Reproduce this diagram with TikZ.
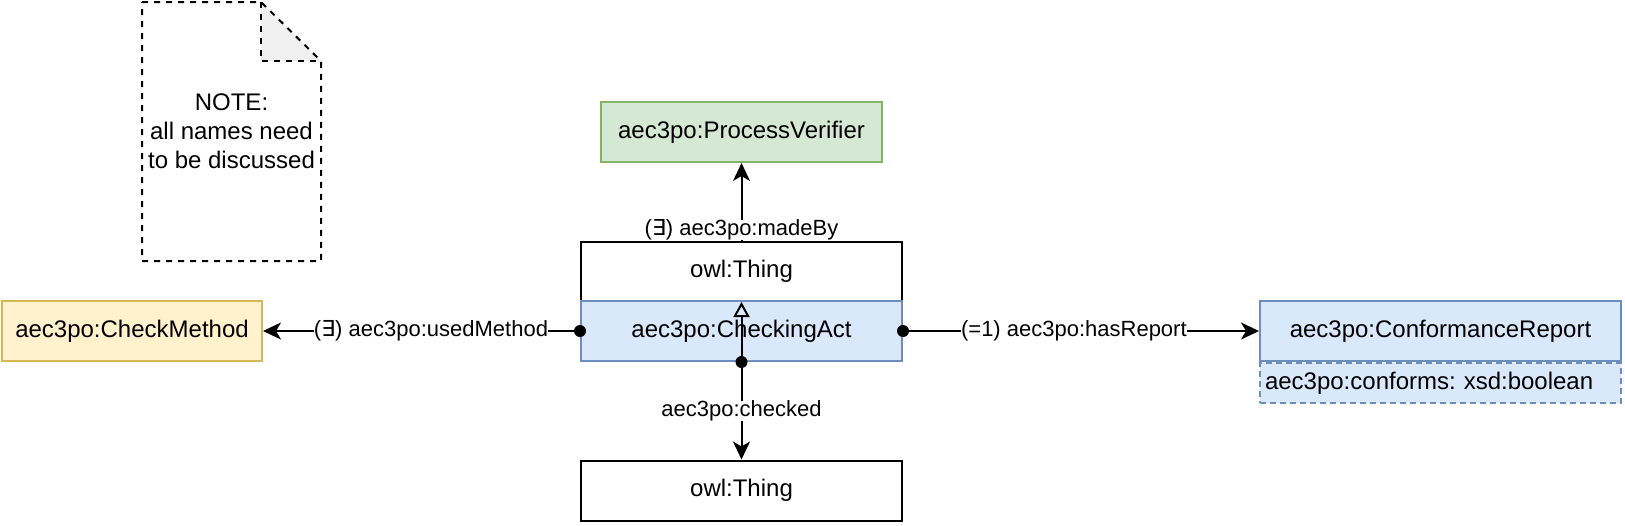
\documentclass[tikz,border=0pt]{standalone}
\usepackage{fontspec}
\setmainfont{Liberation Sans}
\newfontfamily\symfont{DejaVu Sans}
\usetikzlibrary{shapes,arrows.meta,positioning}
\frenchspacing

\definecolor{blueFill}{HTML}{DAE8FC}
\definecolor{blueLine}{HTML}{6C8EBF}
\definecolor{greenFill}{HTML}{D5E8D4}
\definecolor{greenLine}{HTML}{82B366}
\definecolor{yellowFill}{HTML}{FFF2CC}
\definecolor{yellowLine}{HTML}{D6B656}
\definecolor{foldGray}{HTML}{F0F0F0}

\newcommand{\ex}{{\symfont ∃}}

\tikzset{
  box/.style={draw, line width=1pt, inner sep=0pt, minimum width=160.5pt,
    minimum height=30pt, font=\fontsize{12}{14}\selectfont},
  classbox/.style={box, fill=blueFill, draw=blueLine},
  attrbox/.style={box, fill=blueFill, draw=blueLine, dash pattern=on 3pt off 2pt,
    minimum width=180.5pt, minimum height=20pt, text width=175.5pt, align=left},
  link/.style={line width=1pt, -{Stealth[length=9pt, width=8.5pt, inset=2.5pt]}},
  isa/.style={line width=1pt, -{Triangle[open, length=7.5pt, width=8pt]}},
  lbl/.style={fill=white, inner sep=0pt, font=\fontsize{11}{13}\selectfont},
  notedash/.style={line width=1pt, dash pattern=on 3pt off 3pt},
}

\begin{document}
\begin{tikzpicture}[x=0.5pt, y=-0.5pt]

    \useasboundingbox (0,0) rectangle (1625,525);

    % note
    \fill [foldGray] (261,2) -- (261,61) -- (321,61) -- cycle;
    \draw [notedash] (142,2) -- (261,2) -- (321,61) -- (321,261) -- (142,261) -- cycle;
    \draw [notedash] (261,2) -- (261,61) -- (321,61);
    \node [align=center, font=\fontsize{12}{14.5}\selectfont] (note) at (231.5,131)
        {NOTE:\\all names need\\to be discussed};

    % classes
    \node [box, fill=greenFill, draw=greenLine, minimum width=140.5pt] (verifier) at (741.5,132) {aec3po:ProcessVerifier};
    \node [box, minimum height=29.5pt] (thingtop) at (741.5,271.5) {owl:Thing};
    \node [classbox] (act) at (741.5,331) {aec3po:CheckingAct};
    \node [box] (thingbot) at (741.5,490.5) {owl:Thing};
    \node [box, fill=yellowFill, draw=yellowLine, minimum width=130pt] (method) at (132,331) {aec3po:CheckMethod};
    \node [classbox, minimum width=180.5pt] (report) at (1440.5,331) {aec3po:ConformanceReport};
    \node [attrbox, below=0pt of report] (conforms) {aec3po:conforms: xsd:boolean};

    % properties
    \draw [link] (thingtop.north) -- node [lbl, pos=0.14] {(\ex) aec3po:madeBy} (verifier.south);
    \draw [link] (act.west) -- node [lbl, pos=0.47] {(\ex) aec3po:usedMethod} (method.east);
    \draw [link] (act.east) -- node [lbl, pos=0.48] {(=1) aec3po:hasReport} (report.west);
    \draw [link] (act.south) -- node [lbl] {aec3po:checked} (thingbot.north);
    \draw [isa] (act.south) -- (thingtop.south);

    \fill (act.west) circle [radius=3pt];
    \fill (act.east) circle [radius=3pt];
    \fill (act.south) circle [radius=3pt];

\end{tikzpicture}
\end{document}
